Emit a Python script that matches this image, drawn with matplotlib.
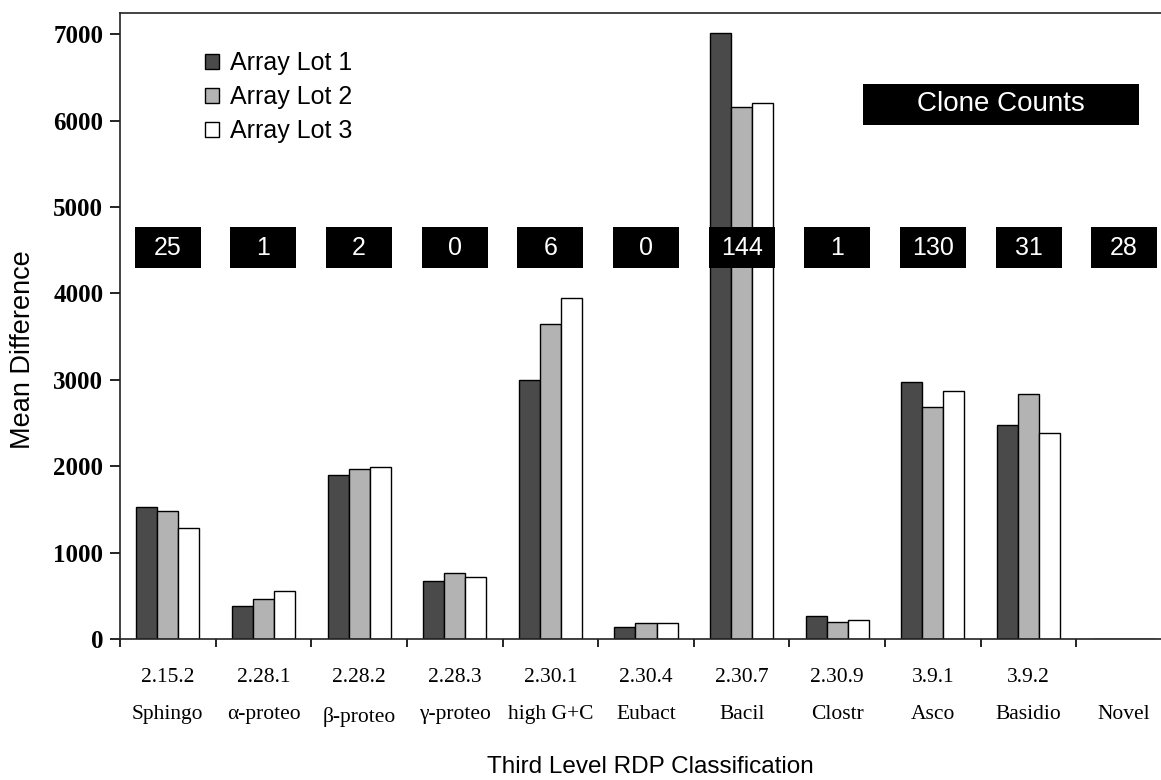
import matplotlib
matplotlib.use("Agg")
import matplotlib.pyplot as plt
from matplotlib.patches import Rectangle
import numpy as np

# data
codes = ["2.15.2", "2.28.1", "2.28.2", "2.28.3", "2.30.1", "2.30.4",
         "2.30.7", "2.30.9", "3.9.1", "3.9.2", ""]
names = ["Sphingo", "α-proteo", "β-proteo", "γ-proteo", "high G+C", "Eubact",
         "Bacil", "Clostr", "Asco", "Basidio", "Novel"]
lot1 = [1530, 378, 1895, 671, 3000, 139, 7017, 270, 2975, 2480, 0]
lot2 = [1480, 467, 1965, 760, 3645, 185, 6161, 200, 2689, 2832, 0]
lot3 = [1289, 559, 1985, 718, 3945, 185, 6207, 220, 2870, 2388, 0]
clone_counts = [25, 1, 2, 0, 6, 0, 144, 1, 130, 31, 28]

DARK, LIGHT, WHITE = "#4a4a4a", "#b3b3b3", "#ffffff"
SANS = ["Liberation Sans", "DejaVu Sans"]
SERIF = ["Liberation Serif", "DejaVu Serif"]

W, H = 1161, 780
fig = plt.figure(figsize=(W / 100, H / 100), dpi=100)
# axes run a little past the right edge, like the cropped original
ax = fig.add_axes([120 / W, (H - 639) / H, (1172 - 120) / W, (639 - 13) / H])

x = np.arange(len(names))
bw = 0.22
for off, vals, col, lab in [(-bw, lot1, DARK, "Array Lot 1"),
                            (0, lot2, LIGHT, "Array Lot 2"),
                            (bw, lot3, WHITE, "Array Lot 3")]:
    ax.bar(x + off, vals, bw, color=col, edgecolor="black", linewidth=1.0,
           label=lab, zorder=2)

ax.set_xlim(-0.5, 10.5)
ax.set_ylim(0, 7245)

# category boundaries carry the tick marks, centres carry the labels
ax.set_xticks(np.arange(-0.5, 11, 1.0))
ax.set_xticklabels([])
ax.set_xticks(x, minor=True)
ax.set_xticklabels([f"{c}\n{n}" for c, n in zip(codes, names)], minor=True,
                   family=SERIF, fontsize=15.5, linespacing=2.3)
ax.tick_params(axis="x", which="major", length=6, width=1.2, direction="out")
ax.tick_params(axis="x", which="minor", length=0, pad=21)
ax.set_yticks(range(0, 8000, 1000))
ax.set_yticklabels([str(v) for v in range(0, 8000, 1000)], family=SERIF,
                   fontsize=18, fontweight="bold")
ax.tick_params(axis="y", length=7, width=1.2, pad=5)
for s in ax.spines.values():
    s.set_linewidth(1.2)
    s.set_color("#222")

fig.text(650 / W, 1 - 767 / H, "Third Level RDP Classification", family=SANS,
         fontsize=17.5, ha="center", va="center")
fig.text(23 / W, 1 - 350 / H, "Mean Difference", family=SANS, fontsize=19.5,
         rotation=90, ha="center", va="center")

# clone-count boxes
for xi, n in zip(x, clone_counts):
    ax.add_patch(Rectangle((xi - 0.345, 4290), 0.69, 480, facecolor="black",
                           edgecolor="none", zorder=4))
    ax.text(xi, 4530, str(n), color="white", ha="center", va="center",
            family=SANS, fontsize=18, zorder=5)
ax.add_patch(Rectangle((7.27, 5950), 2.89, 475, facecolor="black",
                       edgecolor="none", zorder=4))
ax.text(8.715, 6190, "Clone Counts", color="white", ha="center", va="center",
        family=SANS, fontsize=20, zorder=5)

leg = ax.legend(loc="upper left", bbox_to_anchor=(205 / W, 1 - 51 / H),
                bbox_transform=fig.transFigure, frameon=False, borderpad=0,
                borderaxespad=0, handlelength=0.55, handleheight=0.55,
                handletextpad=0.45, labelspacing=0.4,
                prop={"family": SANS, "size": 18})

fig.savefig("out.png", dpi=100)
